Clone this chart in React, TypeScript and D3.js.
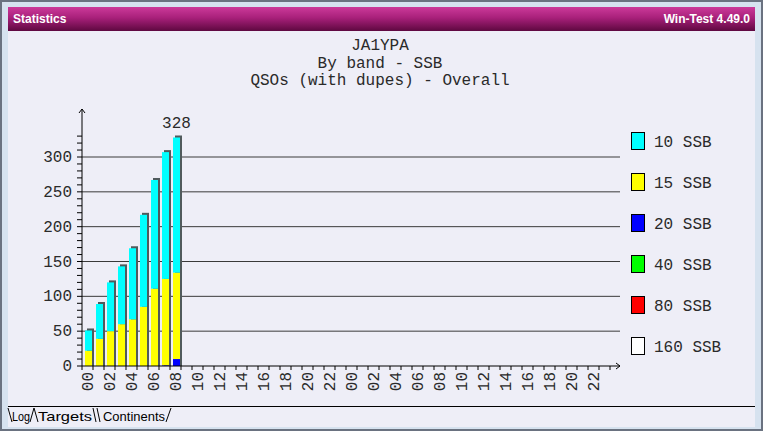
import React from 'react';
import * as d3 from 'd3';

// QSOs per band, cumulative by hour (00..08 UTC)
const barHours = [0, 1, 2, 3, 4, 5, 6, 7, 8];
const band10 = [29, 50, 70, 83, 102, 132, 156, 182, 194];
const band15 = [22, 39, 50, 60, 67, 85, 111, 124, 124];
const band20 = [0, 0, 0, 0, 0, 0, 0, 1, 10];
const band40 = [0, 0, 0, 0, 0, 0, 0, 0, 0];
const band80 = [0, 0, 0, 0, 0, 0, 0, 0, 0];
const band160 = [0, 0, 0, 0, 0, 0, 0, 0, 0];

const legendLabels = ['10 SSB', '15 SSB', '20 SSB', '40 SSB', '80 SSB', '160 SSB'];
const legendColors = ['#00ffff', '#ffff00', '#0000ff', '#00ff00', '#ff0000', '#ffffff'];

const hourLabels = [
  '00', '02', '04', '06', '08', '10', '12', '14', '16', '18', '20', '22',
  '00', '02', '04', '06', '08', '10', '12', '14', '16', '18', '20', '22',
];
const yTicks = [0, 50, 100, 150, 200, 250, 300];
const titleLines = ['JA1YPA', 'By band - SSB', 'QSOs (with dupes) - Overall'];
const tabs = ['Log', 'Targets', 'Continents'];

const W = 763;
const H = 431;
const mono = '"Liberation Mono", "Courier New", monospace';
const sans = '"Liberation Sans", Arial, sans-serif';

const x = d3.scaleLinear().domain([0, 48]).range([82, 610]);
const y = d3.scaleLinear().domain([0, 300]).range([366, 157]);

// stack bottom to top: 160, 80, 40, 20, 15, 10
const keys = ['160', '80', '40', '20', '15', '10'];
const colorOf: Record<string, string> = {
  '10': '#00ffff',
  '15': '#ffff00',
  '20': '#0000ff',
  '40': '#00ff00',
  '80': '#ff0000',
  '160': '#ffffff',
};
const rows = barHours.map((h, i) => ({
  hour: h,
  '10': band10[i],
  '15': band15[i],
  '20': band20[i],
  '40': band40[i],
  '80': band80[i],
  '160': band160[i],
}));
const stacked = d3.stack<any>().keys(keys)(rows);
const totals = rows.map((r) => keys.reduce((s, k) => s + (r as any)[k], 0));

const App = () => {
  const barW = 7;
  const minorTicks = d3.range(0, 340, 10);
  const hourTicks = d3.range(0, 49);
  const textCol = '#2a2a2a';

  return (
    <div style={{ position: 'fixed', left: 0, top: 0 }}>
      <svg width={W} height={H} style={{ display: 'block' }}>
        <defs>
          <linearGradient id="titleGrad" x1="0" y1="0" x2="0" y2="1">
            <stop offset="0%" stopColor="#cc3a9a" />
            <stop offset="45%" stopColor="#a8207a" />
            <stop offset="100%" stopColor="#5e0840" />
          </linearGradient>
        </defs>

        {/* window frame */}
        <rect x={0} y={0} width={W} height={H} fill="#6a7280" />
        <rect x={2} y={2} width={W - 4} height={H - 4} fill="#d6e2ef" />
        <rect x={8} y={31} width={747} height={396} fill="#eeeef7" />
        <rect x={8} y={7} width={747} height={24} fill="url(#titleGrad)" />
        <text x={13} y={23} fontFamily={sans} fontWeight="bold" fontSize={12} fill="#fff">
          Statistics
        </text>
        <text x={750} y={23} textAnchor="end" fontFamily={sans} fontWeight="bold" fontSize={12} fill="#fff">
          Win-Test 4.49.0
        </text>

        {/* titles */}
        {titleLines.map((t, i) => (
          <text key={t} x={380} y={50 + i * 17.5} textAnchor="middle" fontFamily={mono} fontSize={16} fill={textCol}>
            {t}
          </text>
        ))}

        {/* gridlines */}
        {yTicks.slice(1).map((v) => (
          <line key={v} x1={82} x2={620} y1={y(v)} y2={y(v)} stroke="#3a3a3a" strokeWidth={1} />
        ))}

        {/* bars */}
        {rows.map((r, i) => {
          const bx = x(r.hour) + 3;
          return (
            <g key={r.hour}>
              <rect
                x={bx + 2}
                y={y(totals[i]) - 2}
                width={barW}
                height={y(0) - y(totals[i]) + 2}
                fill="#505a5c"
              />
              {stacked.map((s) => {
                const d = s[i];
                const h = y(d[0]) - y(d[1]);
                if (h <= 0) return null;
                return (
                  <rect key={s.key} x={bx} y={y(d[1])} width={barW} height={h} fill={colorOf[s.key]} />
                );
              })}
            </g>
          );
        })}
        <text
          x={x(8) + 3 + barW / 2}
          y={y(totals[8]) - 9}
          textAnchor="middle"
          fontFamily={mono}
          fontSize={16}
          fill={textCol}
        >
          {totals[8]}
        </text>

        {/* y axis */}
        <line x1={82} x2={82} y1={109} y2={366} stroke="#000" />
        <polyline points="79,113 82,109 85,113" fill="none" stroke="#000" />
        {minorTicks.map((v) => (
          <line key={v} x1={77} x2={82} y1={y(v)} y2={y(v)} stroke="#000" />
        ))}
        {yTicks.map((v) => (
          <text key={v} x={72} y={y(v) + 5} textAnchor="end" fontFamily={mono} fontSize={16} fill={textCol}>
            {v}
          </text>
        ))}

        {/* x axis */}
        <line x1={82} x2={620} y1={366} y2={366} stroke="#000" />
        <polyline points="616,363 620,366 616,369" fill="none" stroke="#000" />
        {hourTicks.map((h) => (
          <line key={h} x1={x(h)} x2={x(h)} y1={366} y2={370} stroke="#000" />
        ))}
        {hourLabels.map((l, i) => {
          const cx = x(i * 2) + 6.5;
          return (
            <text
              key={i}
              transform={`translate(${cx},372) rotate(-90)`}
              textAnchor="end"
              dominantBaseline="central"
              fontFamily={mono}
              fontSize={16}
              fill={textCol}
            >
              {l}
            </text>
          );
        })}

        {/* legend */}
        {legendLabels.map((l, i) => (
          <g key={l} transform={`translate(631,${132 + i * 41})`}>
            <rect x={0.5} y={0.5} width={13} height={17} fill={legendColors[i]} stroke="#000" />
            <text x={23} y={15} fontFamily={mono} fontSize={16} fill={textCol}>
              {l}
            </text>
          </g>
        ))}

        {/* tabs */}
        <line x1={8} x2={755} y1={406.5} y2={406.5} stroke="#000" />
        <polyline points="8,408 12,422" fill="none" stroke="#000" />
        <polyline points="30,422 34,408 38,422" fill="none" stroke="#000" />
        <polyline points="93,408 96,422" fill="none" stroke="#000" />
        <polyline points="97,408 100,422" fill="none" stroke="#000" />
        <polyline points="166,422 171,408" fill="none" stroke="#000" />
        <text x={12} y={421} fontFamily={sans} fontSize={13} fill="#000" textLength={18} lengthAdjust="spacingAndGlyphs">
          {tabs[0]}
        </text>
        <text x={38} y={421} fontFamily={sans} fontSize={13} fill="#000" textLength={54} lengthAdjust="spacingAndGlyphs">
          {tabs[1]}
        </text>
        <text x={103} y={421} fontFamily={sans} fontSize={13} fill="#000" textLength={62} lengthAdjust="spacingAndGlyphs">
          {tabs[2]}
        </text>
      </svg>
    </div>
  );
};

export default App;
